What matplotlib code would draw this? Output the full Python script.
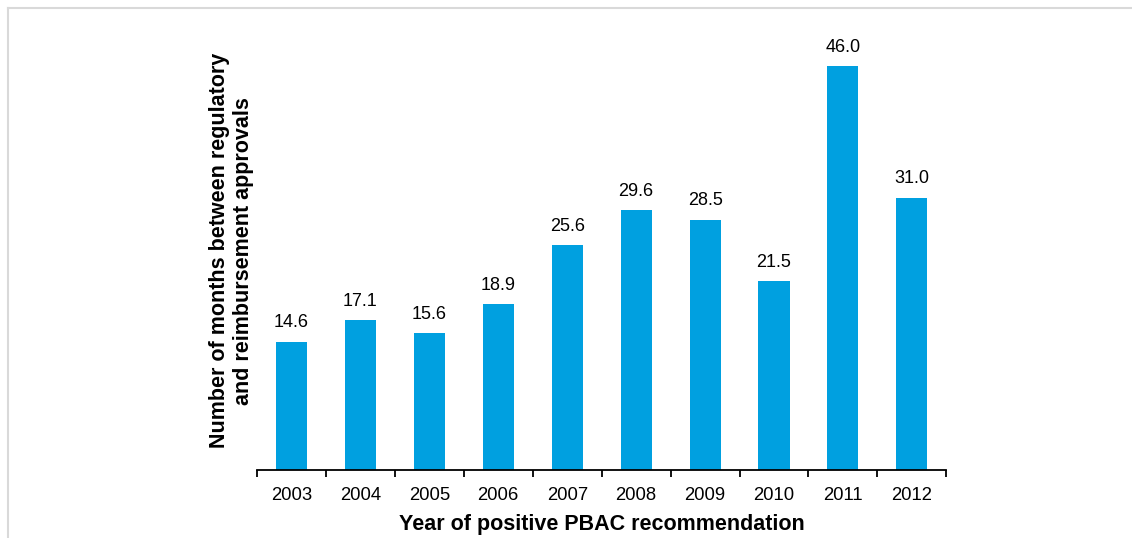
import matplotlib.pyplot as plt
from matplotlib.lines import Line2D

years = ['2003', '2004', '2005', '2006', '2007', '2008', '2009', '2010', '2011', '2012']
months = [14.6, 17.1, 15.6, 18.9, 25.6, 29.6, 28.5, 21.5, 46.0, 31.0]

plt.rcParams['font.family'] = ['Liberation Sans', 'DejaVu Sans']

fig = plt.figure(figsize=(11.32, 5.38), dpi=100)
ax = fig.add_axes([0.227, 0.126, 0.609, 0.816])

x = range(len(years))
ax.bar(x, months, width=0.45, color='#00A0E0')
for i, v in zip(x, months):
    ax.text(i, v + 1.2, '%.1f' % v, ha='center', va='bottom', fontsize=13)

ax.set_xlim(-0.5, len(years) - 0.5)
ax.set_ylim(0, 50)
ax.set_xticks(x)
ax.set_xticklabels(years, fontsize=13.3)
ax.set_xticks([i - 0.5 for i in range(len(years) + 1)], minor=True)
ax.tick_params(axis='x', which='major', length=0, pad=12)
ax.tick_params(axis='x', which='minor', length=5, width=1.3, direction='out')
ax.set_yticks([])
for s in ['top', 'right', 'left']:
    ax.spines[s].set_visible(False)
ax.spines['bottom'].set_linewidth(1.3)

ax.set_xlabel('Year of positive PBAC recommendation', fontsize=15.5, fontweight='bold', labelpad=7)
ax.set_ylabel('Number of months between regulatory\nand reimbursement approvals',
              fontsize=15.5, fontweight='bold', labelpad=2)

# thin grey frame along the top and left edges
fig.add_artist(Line2D([8 / 1132, 1.0], [1 - 8 / 538, 1 - 8 / 538], color='#d9d9d9', lw=1.5, transform=fig.transFigure))
fig.add_artist(Line2D([8 / 1132, 8 / 1132], [0, 1 - 8 / 538], color='#d9d9d9', lw=1.5, transform=fig.transFigure))

fig.savefig('out.png', dpi=100)
